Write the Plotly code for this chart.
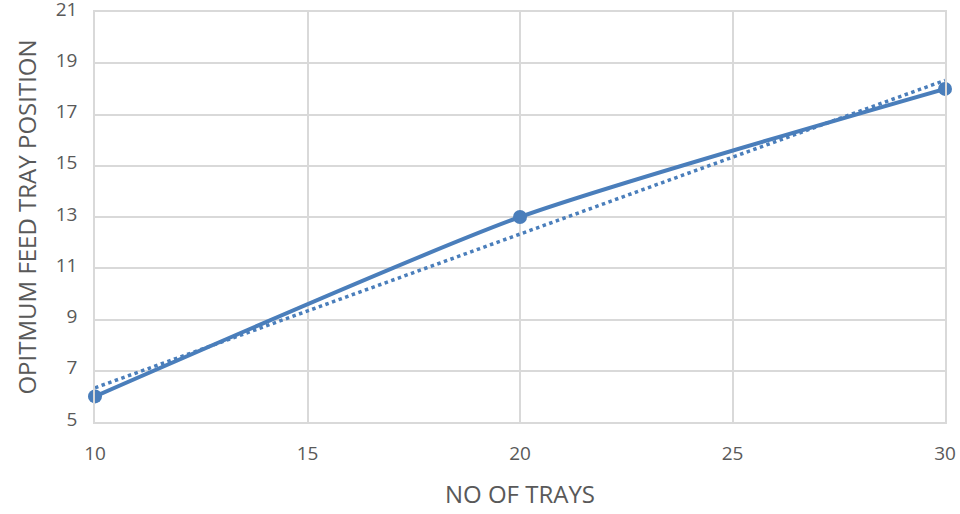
import numpy
import plotly.graph_objects as go

trays = [10, 20, 30]
feed_position = [6, 13, 18]

x_ticks = [10, 15, 20, 25, 30]
y_ticks = [5, 7, 9, 11, 13, 15, 17, 19, 21]

blue = '#4a7ebb'


def main():
    fig = go.Figure()

    # smoothed series line like the excel chart
    fig.add_trace(go.Scatter(x=trays,
                             y=feed_position,
                             mode='lines+markers',
                             line=dict(color=blue, width=4, shape='spline', smoothing=0.6),
                             marker=dict(size=14, color=blue),
                             cliponaxis=False,
                             showlegend=False))

    # linear trendline from the data
    slope, intercept = numpy.polyfit(trays, feed_position, 1)
    trend_x = [trays[0], trays[-1]]
    trend_y = [slope * v + intercept for v in trend_x]
    fig.add_trace(go.Scatter(x=trend_x,
                             y=trend_y,
                             mode='lines',
                             line=dict(color=blue, width=3.5, dash='dot'),
                             cliponaxis=False,
                             showlegend=False))

    axis_font = dict(family='Open Sans', size=19, color='#595959')
    title_font = dict(family='Open Sans', size=24, color='#595959')
    fig.update_xaxes(range=[10, 30], tickvals=x_ticks, showgrid=True, gridcolor='#d9d9d9',
                     gridwidth=1.5, zeroline=False, showline=True, linecolor='#d9d9d9',
                     linewidth=1.5, mirror=True, tickfont=axis_font,
                     ticks='outside', ticklen=13, tickcolor='rgba(0,0,0,0)',
                     automargin=False, ticklabeloverflow='allow',
                     title=dict(text='NO OF TRAYS', font=title_font, standoff=22))
    fig.update_yaxes(range=[5, 21], tickvals=y_ticks, showgrid=True, gridcolor='#d9d9d9',
                     gridwidth=1.5, zeroline=False, showline=True, linecolor='#d9d9d9',
                     linewidth=1.5, mirror=True, tickfont=axis_font,
                     ticks='outside', ticklen=12, tickcolor='rgba(0,0,0,0)',
                     ticklabelshift=-3,
                     automargin=False, ticklabeloverflow='allow',
                     title=dict(text='OPITMUM FEED TRAY POSITION', font=title_font, standoff=12))

    fig.update_layout(width=960, height=514,
                      margin=dict(l=95, r=15, t=12, b=92),
                      plot_bgcolor='white', paper_bgcolor='white')

    # page body has a default margin, remove it so the chart sits at the corner
    fig.write_html('out.html', config={'displayModeBar': False},
                   post_script="document.body.style.margin='0';")


if __name__ == '__main__':
    main()
